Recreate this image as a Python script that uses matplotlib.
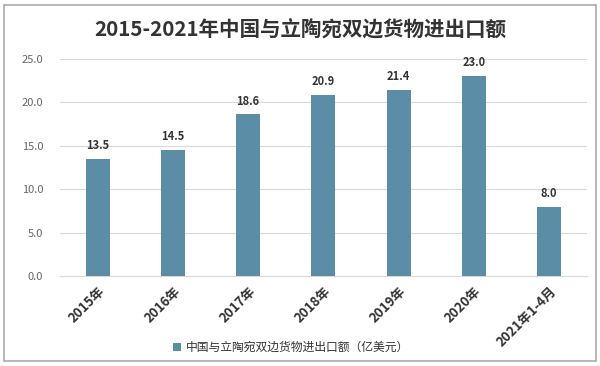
import matplotlib
matplotlib.use("Agg")
import matplotlib.pyplot as plt
from matplotlib.patches import Rectangle

plt.rcParams['font.family'] = ['Noto Sans CJK SC', 'DejaVu Sans']

categories = ["2015年", "2016年", "2017年", "2018年", "2019年", "2020年", "2021年1-4月"]
values = [13.5, 14.5, 18.6, 20.9, 21.4, 23.0, 8.0]
series_name = "中国与立陶宛双边货物进出口额（亿美元）"
title = "2015-2021年中国与立陶宛双边货物进出口额"

bar_color = "#5b8ea6"

fig = plt.figure(figsize=(6, 3.66), dpi=100)
ax = fig.add_axes([0.1, 0.246, 0.878, 0.593])

x = range(len(categories))
bars = ax.bar(x, values, width=0.32, color=bar_color, label=series_name, zorder=3)
ax.bar_label(bars, fmt='{:.1f}', padding=5, fontsize=8, fontweight='bold', color='#333333')

ax.set_xlim(-0.5, len(categories) - 0.5)
ax.set_ylim(0, 25)
ax.set_yticks([0, 5, 10, 15, 20, 25])
ax.set_yticklabels([f"{v:.1f}" for v in [0, 5, 10, 15, 20, 25]], fontsize=8, color='#666666')
ax.set_xticks(list(x))
ax.set_xticklabels(categories, rotation=45, ha='right', rotation_mode='anchor',
                   fontsize=9.5, fontweight='bold', color='#333333')
ax.tick_params(axis='both', length=0)
ax.tick_params(axis='y', pad=12)
ax.tick_params(axis='x', pad=6)
ax.grid(axis='y', color='#d9d9d9', linewidth=0.8, zorder=0)
for s in ['top', 'right', 'left']:
    ax.spines[s].set_visible(False)
ax.spines['bottom'].set_color('#d9d9d9')

fig.text(0.5, 0.918, title, ha='center', va='center', fontsize=14.8, fontweight='bold', color='#333333')

fig.legend(handles=[bars], labels=[series_name], loc='center', bbox_to_anchor=(0.485, 0.05),
           frameon=False, fontsize=8.5, handlelength=0.7, handleheight=0.7, handletextpad=0.4,
           labelcolor='#333333')

fig.patches.append(Rectangle((0.006, 0.015), 0.988, 0.97, transform=fig.transFigure,
                             fill=False, edgecolor='#aaaaaa', linewidth=1.2))

fig.savefig("out.png", dpi=100)
